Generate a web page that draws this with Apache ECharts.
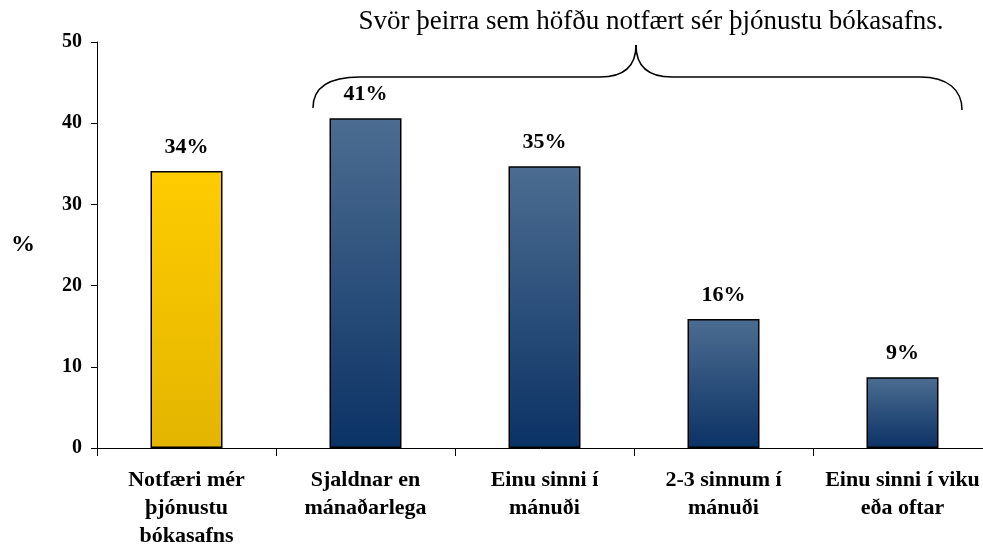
<!DOCTYPE html>
<html>
<head>
<meta charset="utf-8">
<script src="https://cdn.jsdelivr.net/npm/echarts@6/dist/echarts.min.js"></script>
<style>
html,body{margin:0;padding:0;background:#fff;}
#chart{width:983px;height:548px;}
</style>
</head>
<body>
<div id="chart"></div>
<script>
const categories = ["Notfæri mér\nþjónustu\nbókasafns", "Sjaldnar en\nmánaðarlega", "Einu sinni í\nmánuði", "2-3 sinnum í\nmánuði", "Einu sinni í viku\neða oftar"];
const values = [34.1, 40.6, 34.7, 15.9, 8.7];
const yTicks = [0, 10, 20, 30, 40, 50];
const annotationText = "Svör þeirra sem höfðu notfært sér þjónustu bókasafns.";

const font = "'Liberation Serif', 'Times New Roman', serif";
const yellow = new echarts.graphic.LinearGradient(0, 0, 0, 1, [{offset: 0, color: '#ffcc00'}, {offset: 1, color: '#e3b500'}]);
const blue = new echarts.graphic.LinearGradient(0, 0, 0, 1, [{offset: 0, color: '#4c6d91'}, {offset: 1, color: '#0b3265'}]);

const braceStyle = {stroke: '#000', lineWidth: 1.5, fill: null};
function bez(x1, y1, c1x, c1y, c2x, c2y, x2, y2) {
  return {type: 'bezierCurve', shape: {x1: x1, y1: y1, cpx1: c1x, cpy1: c1y, cpx2: c2x, cpy2: c2y, x2: x2, y2: y2}, style: braceStyle, silent: true};
}
function seg(x1, y1, x2, y2) {
  return {type: 'line', shape: {x1: x1, y1: y1, x2: x2, y2: y2}, style: braceStyle, silent: true};
}

const chart = echarts.init(document.getElementById('chart'));
chart.setOption({
  animation: false,
  grid: {left: 97, right: -9, top: 42, bottom: 100, containLabel: false, outerBoundsMode: 'none'},
  xAxis: {
    type: 'category',
    data: categories,
    boundaryGap: true,
    axisLine: {lineStyle: {color: '#000', width: 1}},
    axisTick: {show: true, length: 8, lineStyle: {color: '#000'}},
    axisLabel: {color: '#000', fontFamily: font, fontWeight: 'bold', fontSize: 22, lineHeight: 28, margin: 18, interval: 0, hideOverlap: false}
  },
  yAxis: {
    type: 'value',
    min: yTicks[0], max: yTicks[yTicks.length - 1], interval: 10,
    name: '%',
    nameLocation: 'middle',
    nameRotate: 0,
    nameGap: 62,
    nameTextStyle: {color: '#000', fontFamily: font, fontWeight: 'bold', fontSize: 24},
    axisLine: {show: true, lineStyle: {color: '#000', width: 1}},
    axisTick: {show: true, length: 6, lineStyle: {color: '#000'}},
    splitLine: {show: false},
    axisLabel: {color: '#000', fontFamily: font, fontWeight: 'bold', fontSize: 20, margin: 15}
  },
  series: [{
    type: 'bar',
    data: values,
    barWidth: 72,
    itemStyle: {
      color: function (p) { return p.dataIndex === 0 ? yellow : blue; },
      borderColor: '#000',
      borderWidth: 1.5
    },
    label: {
      show: true,
      position: 'top',
      distance: 13,
      formatter: function (p) { return Math.round(p.value) + '%'; },
      color: '#000', fontFamily: font, fontWeight: 'bold', fontSize: 22
    }
  }],
  graphic: [
    {
      type: 'text',
      x: 651, y: 22,
      style: {text: annotationText, fill: '#000', font: "27px " + font, align: 'center', verticalAlign: 'middle'},
      silent: true
    },
    bez(313, 108, 313, 88, 328, 77, 360, 77),
    seg(360, 77, 600, 77),
    bez(600, 77, 625, 77, 636, 65, 636, 45),
    bez(636, 45, 636, 65, 647, 77, 672, 77),
    seg(672, 77, 920, 77),
    bez(920, 77, 948, 77, 962, 90, 962, 110)
  ]
});
</script>
</body>
</html>
